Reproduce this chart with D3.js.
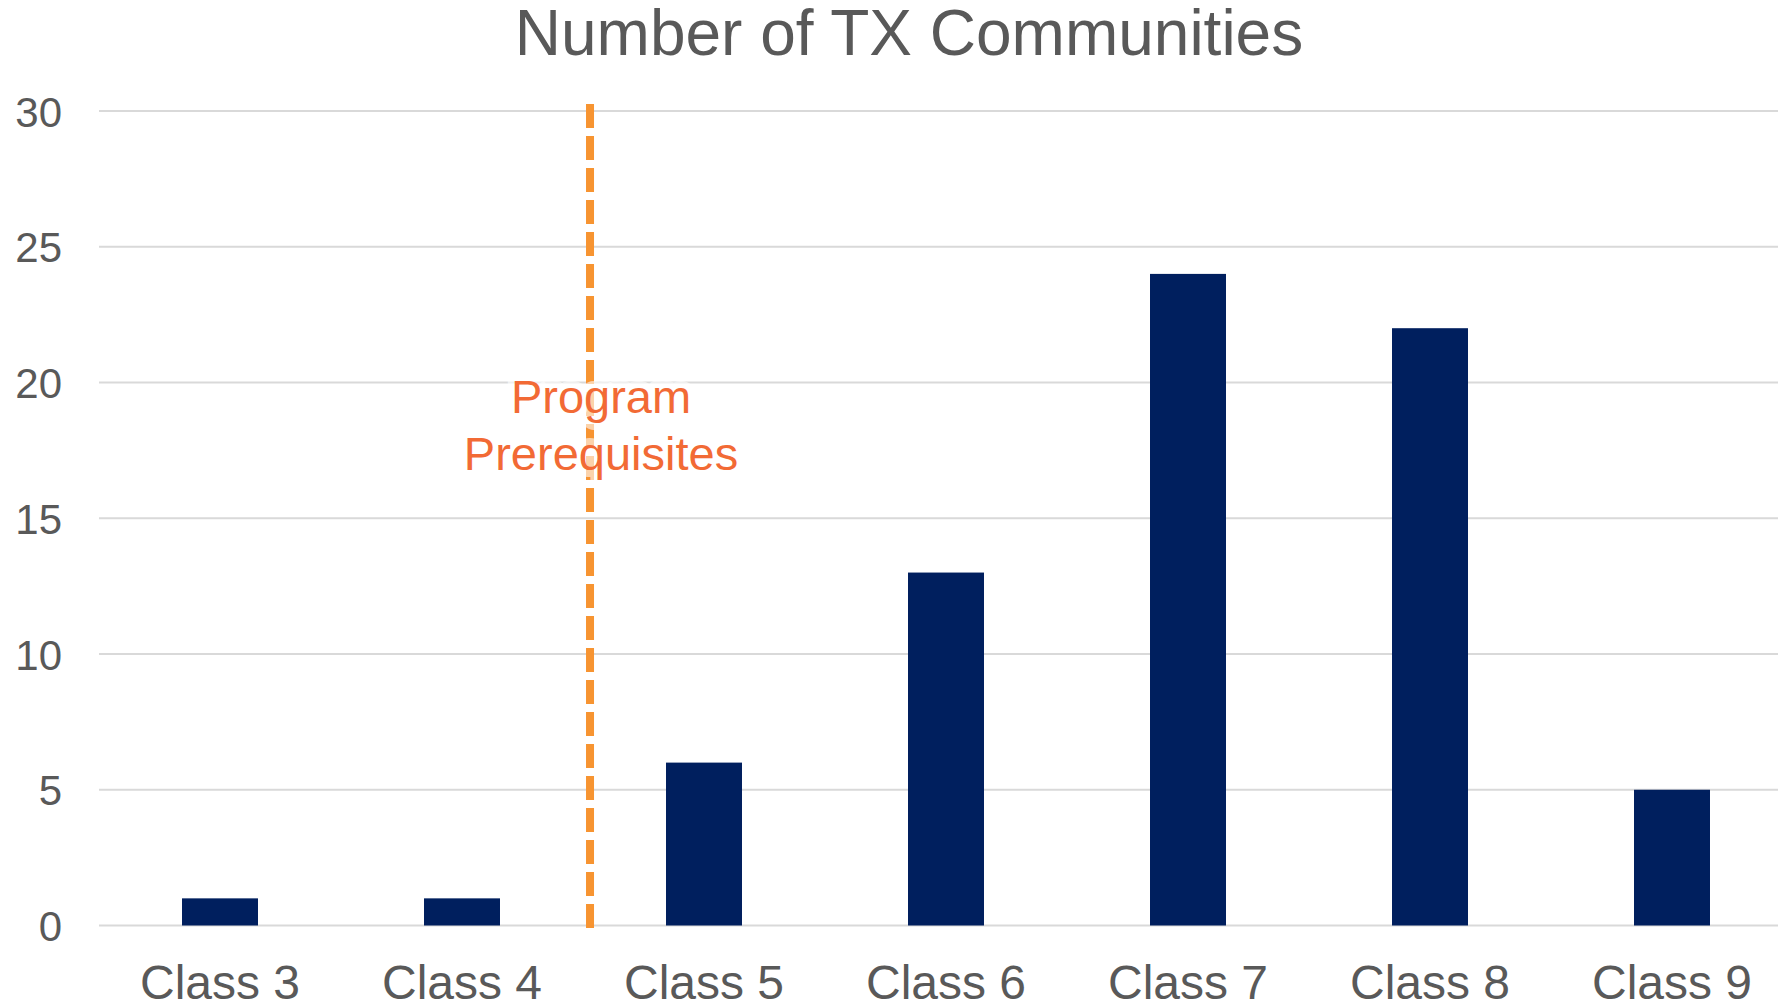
<!DOCTYPE html>
<html>
<head>
<meta charset="utf-8">
<script src="https://cdn.jsdelivr.net/npm/d3@7"></script>
<style>
  body { margin: 0; background: #fff; }
  svg { display: block; font-family: "Liberation Sans", Arial, sans-serif; }
</style>
</head>
<body>
<div class="chart"></div>
<script>
var categories = ["Class 3", "Class 4", "Class 5", "Class 6", "Class 7", "Class 8", "Class 9"];
var counts = [1, 1, 6, 13, 24, 22, 5];
var yTicks = [0, 5, 10, 15, 20, 25, 30];
var chartTitle = "Number of TX Communities";
var noteLines = ["Program", "Prerequisites"];

var svgWidth = 1778;
var svgHeight = 1005;

var svg = d3.select(".chart")
  .append("svg")
  .attr("width", svgWidth)
  .attr("height", svgHeight);

// scales
var xScale = d3.scaleBand()
  .domain(categories)
  .range([99, 1793])
  .paddingInner(0.686)
  .paddingOuter(0.343);

var yScale = d3.scaleLinear()
  .domain([0, 30])
  .range([925.5, 111]);

// gridlines
svg.append("g")
  .selectAll("line")
  .data(yTicks)
  .enter()
  .append("line")
  .attr("x1", 99)
  .attr("x2", svgWidth)
  .attr("y1", d => yScale(d))
  .attr("y2", d => yScale(d))
  .attr("stroke", "#d9d9d9")
  .attr("stroke-width", 2);

// y axis labels
var leftAxis = d3.axisLeft(yScale).tickValues(yTicks).tickSize(0).tickPadding(0);
var yAxis = svg.append("g")
  .attr("transform", "translate(62, 0)")
  .call(leftAxis);
yAxis.select(".domain").remove();
yAxis.selectAll("text")
  .attr("font-size", "42px")
  .attr("font-family", "Liberation Sans, Arial, sans-serif")
  .attr("fill", "#595959")
  .attr("dy", "0.36em");

// bars
svg.append("g")
  .selectAll("rect")
  .data(categories)
  .enter()
  .append("rect")
  .attr("x", d => xScale(d))
  .attr("width", xScale.bandwidth())
  .attr("y", (d, i) => yScale(counts[i]))
  .attr("height", (d, i) => yScale(0) - yScale(counts[i]))
  .attr("fill", "#001f5e");

// x axis labels
var bottomAxis = d3.axisBottom(xScale).tickSize(0).tickPadding(0);
var xAxis = svg.append("g")
  .attr("transform", "translate(0, 925.5)")
  .call(bottomAxis);
xAxis.select(".domain").remove();
xAxis.selectAll("text")
  .attr("font-size", "48px")
  .attr("font-family", "Liberation Sans, Arial, sans-serif")
  .attr("fill", "#595959")
  .attr("dy", null)
  .attr("y", 73);

// divider between class 4 and class 5
var step = xScale.step();
var dividerX = (xScale("Class 4") + xScale("Class 5")) / 2 + xScale.bandwidth() / 2 + 0.029 * step;

svg.append("line")
  .attr("x1", dividerX)
  .attr("x2", dividerX)
  .attr("y1", yScale(30) - 7)
  .attr("y2", yScale(0) + 2.5)
  .attr("stroke", "#f79431")
  .attr("stroke-width", 8)
  .attr("stroke-dasharray", "24,8");

// annotation text
var note = svg.append("text")
  .attr("x", dividerX + 11)
  .attr("y", 413)
  .attr("text-anchor", "middle")
  .attr("font-size", "47px")
  .attr("fill", "#f26a35")
  .attr("stroke", "rgba(255,255,255,0.6)")
  .attr("stroke-width", 14)
  .attr("stroke-linejoin", "round")
  .attr("paint-order", "stroke");

note.selectAll("tspan")
  .data(noteLines)
  .enter()
  .append("tspan")
  .attr("x", dividerX + 11)
  .attr("dy", (d, i) => i === 0 ? 0 : 57)
  .text(d => d);

// title
svg.append("text")
  .attr("x", 909)
  .attr("y", 55)
  .attr("text-anchor", "middle")
  .attr("font-size", "64px")
  .attr("fill", "#595959")
  .text(chartTitle);
</script>
</body>
</html>
